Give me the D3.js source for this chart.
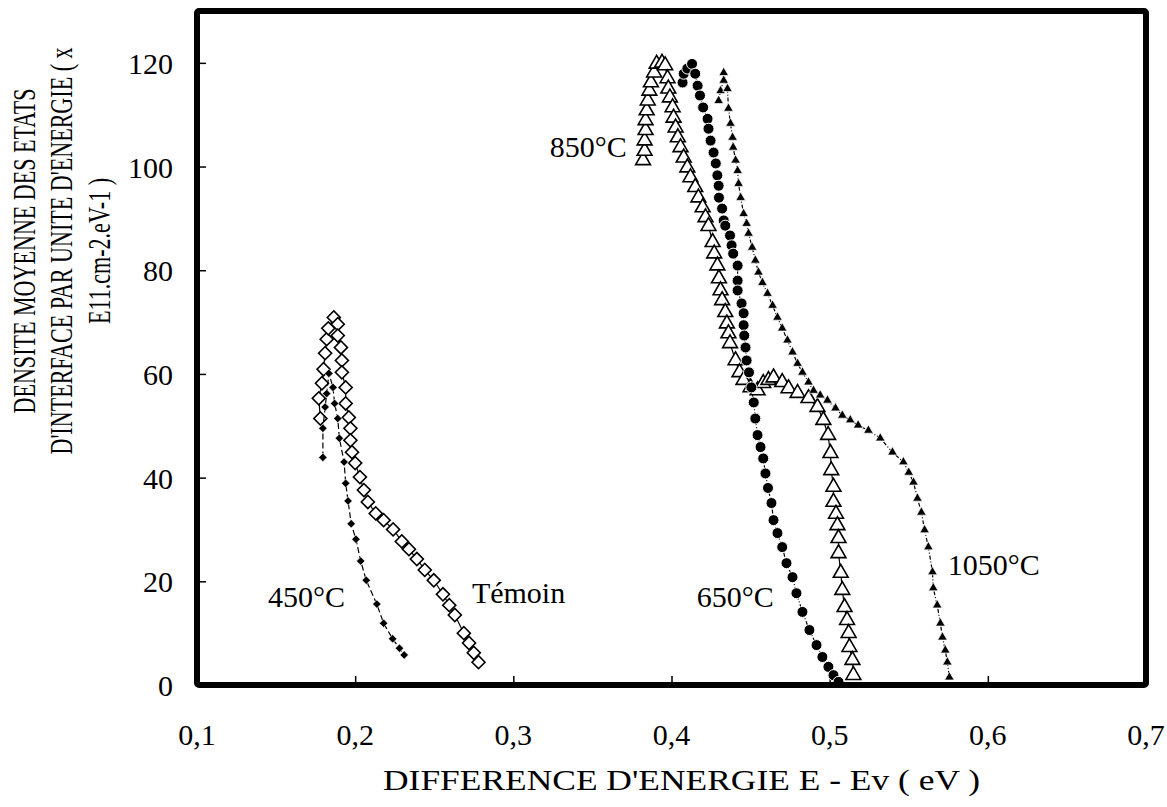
<!DOCTYPE html>
<html>
<head>
<meta charset="utf-8">
<script src="https://cdn.jsdelivr.net/npm/d3@7"></script>
<style>
  body { margin: 0; background: #ffffff; }
  svg text { font-family: "Liberation Serif", "Times New Roman", serif; fill: #000; }
</style>
</head>
<body>
<div id="chart"></div>
<script>
/* ********* ********* ********* ********* ********* ********* *********
 * Data  (E - Ev en eV, densite en E11.cm-2.eV-1)
 * ********* ********* ********* ********* ********* ********* ********* */
var temoin = [
  [0.178,51.4],[0.177,55.3],[0.179,58.2],[0.180,60.9],[0.181,64.0],[0.182,66.7],
  [0.183,68.8],[0.1865,70.9],[0.189,69.6],[0.189,67.4],[0.191,65.1],[0.1916,62.6],
  [0.1916,60.3],[0.194,57.4],[0.194,54.3],[0.196,51.6],[0.197,49.5],[0.197,47.2],
  [0.198,44.9],[0.200,42.8],[0.203,40.1],[0.2055,37.6],[0.208,35.3],[0.213,33.1],
  [0.218,31.8],[0.224,30.0],[0.2295,27.7],[0.234,26.2],[0.239,24.3],[0.244,22.2],
  [0.2497,20.2],[0.2555,17.5],[0.2595,15.4],[0.263,13.5],[0.2687,10.0],[0.272,8.1],
  [0.275,6.2],[0.278,4.4]
];
var t450 = [
  [0.1796,43.9],[0.1796,49.5],[0.181,53.6],[0.182,56.2],[0.1834,60.1],[0.186,57.4],
  [0.187,54.3],[0.189,51.4],[0.190,47.6],[0.193,43.0],[0.194,38.9],[0.1955,35.5],
  [0.1975,31.1],[0.2005,28.1],[0.2035,23.9],[0.207,20.2],[0.2137,15.6],[0.218,11.9],
  [0.2237,8.9],[0.228,7.1],[0.231,5.8]
];
var t650 = [
  [0.407,116.2],[0.4077,117.9],[0.410,118.9],[0.413,119.8],[0.415,117.9],[0.4165,115.6],
  [0.418,113.7],[0.420,111.4],[0.4228,109.2],[0.4234,107.3],[0.4247,105.0],[0.4266,102.7],
  [0.428,100.6],[0.429,98.3],[0.4298,96.3],[0.430,94.0],[0.432,91.9],[0.433,89.6],
  [0.434,88.6],[0.437,86.7],[0.438,84.8],[0.439,83.2],[0.4418,80.9],[0.4418,78.0],
  [0.4418,76.1],[0.4443,73.6],[0.4456,71.7],[0.4456,69.4],[0.446,67.4],[0.4468,65.1],
  [0.4475,62.6],[0.449,60.3],[0.4505,57.4],[0.452,54.5],[0.453,51.4],[0.4544,48.2],
  [0.4563,45.9],[0.458,43.7],[0.4594,40.8],[0.461,38.0],[0.4632,35.1],[0.4645,31.8],
  [0.467,29.3],[0.470,26.6],[0.4727,23.5],[0.4765,20.8],[0.479,17.7],[0.4828,14.1],
  [0.4872,10.6],[0.4917,7.7],[0.4954,5.4],[0.4992,3.5],[0.5024,1.9],[0.5056,0.6]
];
var t850 = [
  [0.382,101.2],[0.383,103.0],[0.383,105.0],[0.3836,107.0],[0.3836,108.9],[0.3843,110.8],
  [0.385,112.7],[0.386,114.6],[0.387,116.2],[0.389,118.1],[0.3906,119.8],[0.394,120.0],
  [0.396,119.5],[0.3975,117.0],[0.398,115.0],[0.399,113.3],[0.4007,111.4],[0.4013,109.4],
  [0.4026,107.5],[0.404,105.6],[0.4057,103.7],[0.4077,101.7],[0.410,99.8],[0.412,97.9],
  [0.415,96.0],[0.417,94.0],[0.4197,92.1],[0.4215,90.2],[0.4234,88.5],[0.426,85.4],
  [0.427,83.2],[0.429,80.9],[0.430,78.4],[0.431,76.1],[0.432,74.2],[0.434,71.9],
  [0.435,69.7],[0.436,67.8],[0.437,65.9],[0.4405,62.6],[0.443,60.3],[0.4455,58.8],
  [0.450,57.4],[0.4544,56.8],[0.458,58.2],[0.4613,58.8],[0.4645,59.3],[0.470,58.4],
  [0.474,57.2],[0.4797,56.3],[0.4866,55.3],[0.4923,53.6],[0.496,51.1],[0.499,48.2],
  [0.5005,44.7],[0.501,41.4],[0.5024,38.2],[0.5024,35.3],[0.504,33.0],[0.5049,30.8],
  [0.5056,28.3],[0.5056,25.4],[0.507,21.6],[0.508,18.3],[0.5094,15.0],[0.511,12.5],
  [0.512,10.0],[0.5125,7.3],[0.5144,4.8],[0.515,1.9]
];
var t1050 = [
  [0.4298,112.7],[0.431,114.6],[0.433,116.6],[0.433,118.1],[0.4354,115.0],[0.436,111.2],
  [0.4373,108.3],[0.4386,105.6],[0.439,103.7],[0.4405,101.2],[0.4418,99.2],[0.4424,96.7],
  [0.4437,94.0],[0.4456,90.9],[0.4475,89.0],[0.4487,87.1],[0.451,84.4],[0.453,81.9],
  [0.455,79.6],[0.4575,77.6],[0.4607,75.5],[0.4639,73.2],[0.467,70.9],[0.470,68.8],
  [0.4733,66.5],[0.4765,64.2],[0.4797,62.0],[0.4828,60.3],[0.4866,58.4],[0.4898,56.8],
  [0.494,55.9],[0.4986,54.9],[0.5037,53.4],[0.508,52.0],[0.513,51.1],[0.518,50.1],
  [0.5245,49.1],[0.532,47.6],[0.5397,44.9],[0.5466,43.0],[0.550,41.0],[0.553,39.1],
  [0.5555,36.0],[0.558,33.3],[0.560,29.9],[0.5624,26.6],[0.565,21.8],[0.5655,18.7],
  [0.568,15.4],[0.570,11.9],[0.5713,9.2],[0.5731,6.7],[0.5744,4.4],[0.5757,1.5]
];

var xTicks = [0.1, 0.2, 0.3, 0.4, 0.5, 0.6, 0.7];
var yTicks = [0, 20, 40, 60, 80, 100, 120];

// curve labels: [text, x, y] in data units
var curveLabels = [
  ["850°C", 0.3231, 101.8],
  ["450°C", 0.1449, 15.0],
  ["Témoin", 0.2738, 15.8],
  ["650°C", 0.4160, 15.0],
  ["1050°C", 0.5747, 21.2]
];

var yTitle = ["DENSITE MOYENNE DES ETATS", "D'INTERFACE PAR UNITE D'ENERGIE ( x", "E11.cm-2.eV-1 )"];
var xTitle = "DIFFERENCE D'ENERGIE E - Ev ( eV )";

/* ********* ********* ********* ********* ********* ********* *********
 * Chart
 * ********* ********* ********* ********* ********* ********* ********* */
var W = 1167, H = 807;
var plot = { left: 197, right: 1146, top: 11, bottom: 685 };

var x = d3.scaleLinear().domain([0.1, 0.7]).range([plot.left, plot.right]);
var y = d3.scaleLinear().domain([0, 130]).range([plot.bottom, plot.top]);

var svg = d3.select("#chart").append("svg")
  .attr("width", W)
  .attr("height", H);

/* Axes: ticks inside the frame, labels outside */
var xAxis = svg.append("g")
  .attr("transform", "translate(0," + plot.bottom + ")")
  .call(d3.axisTop(x).tickValues(xTicks).tickSize(9).tickFormat(""));
xAxis.select(".domain").remove();
xAxis.selectAll("line").attr("stroke", "#000").attr("stroke-width", 1.5);

var yAxis = svg.append("g")
  .attr("transform", "translate(" + plot.left + ",0)")
  .call(d3.axisRight(y).tickValues(yTicks.slice(1)).tickSize(9).tickFormat(""));
yAxis.select(".domain").remove();
yAxis.selectAll("line").attr("stroke", "#000").attr("stroke-width", 1.5);

svg.append("g").selectAll("text")
  .data(xTicks)
  .enter().append("text")
    .attr("x", function(d) { return x(d); })
    .attr("y", 745)
    .attr("text-anchor", "middle")
    .style("font-size", "30px")
    .text(function(d) { return d3.format(".1f")(d).replace(".", ","); });

svg.append("g").selectAll("text")
  .data(yTicks)
  .enter().append("text")
    .attr("x", 173)
    .attr("y", function(d) { return y(d) + 11; })
    .attr("text-anchor", "end")
    .style("font-size", "30px")
    .text(function(d) { return d; });

/* Axis titles (the original is stretched: x title wide, y title condensed) */
svg.append("text")
  .attr("x", 383)
  .attr("y", 790)
  .attr("textLength", 597)
  .attr("lengthAdjust", "spacingAndGlyphs")
  .style("font-size", "30px")
  .text(xTitle);

svg.append("g")
  .attr("transform", "translate(0,251) rotate(-90) scale(0.69,1)")
  .selectAll("text")
  .data(yTitle)
  .enter().append("text")
    .attr("x", 0)
    .attr("y", function(d, i) { return 35 + i * 37.5; })
    .attr("text-anchor", "middle")
    .style("font-size", "32px")
    .text(function(d) { return d; });

/* Series */
var line = d3.line()
  .x(function(d) { return x(d[0]); })
  .y(function(d) { return y(d[1]); });

var series = [
  { data: t850,   dash: null,      sym: d3.symbolTriangle, size: 95, fill: "#fff", stroke: "#000", sw: 1.6 },
  { data: temoin, dash: null,      sym: d3.symbolSquare,   size: 85, fill: "#fff", stroke: "#000", sw: 1.6, rot: 45 },
  { data: t450,   dash: "6,3",     sym: d3.symbolSquare,   size: 36, fill: "#000", stroke: "#fff", sw: 0.6, rot: 45 },
  { data: t650,   dash: "4,2,1,2", sym: d3.symbolCircle,   size: 95, fill: "#000", stroke: "#fff", sw: 1 },
  { data: t1050,  dash: "4,2,1,2", sym: d3.symbolTriangle, size: 40, fill: "#000", stroke: "#fff", sw: 0.7 }
];

series.forEach(function(s) {
  var g = svg.append("g");
  g.append("path")
    .datum(s.data)
    .attr("d", line)
    .attr("fill", "none")
    .attr("stroke", "#000")
    .attr("stroke-width", 1.2)
    .attr("stroke-dasharray", s.dash);
  g.selectAll("path.pt")
    .data(s.data)
    .enter().append("path")
      .attr("class", "pt")
      .attr("d", d3.symbol().type(s.sym).size(s.size))
      .attr("transform", function(d) {
        return "translate(" + x(d[0]) + "," + y(d[1]) + ")" + (s.rot ? " rotate(" + s.rot + ")" : "");
      })
      .attr("fill", s.fill)
      .attr("stroke", s.stroke)
      .attr("stroke-width", s.sw);
});

/* Curve labels */
svg.append("g").selectAll("text")
  .data(curveLabels)
  .enter().append("text")
    .attr("x", function(d) { return x(d[1]); })
    .attr("y", function(d) { return y(d[2]); })
    .style("font-size", "30px")
    .text(function(d) { return d[0]; });

/* Frame */
svg.append("rect")
  .attr("x", plot.left)
  .attr("y", plot.top)
  .attr("width", plot.right - plot.left)
  .attr("height", plot.bottom - plot.top)
  .attr("rx", 2)
  .attr("fill", "none")
  .attr("stroke", "#000")
  .attr("stroke-width", 6);
</script>
</body>
</html>
